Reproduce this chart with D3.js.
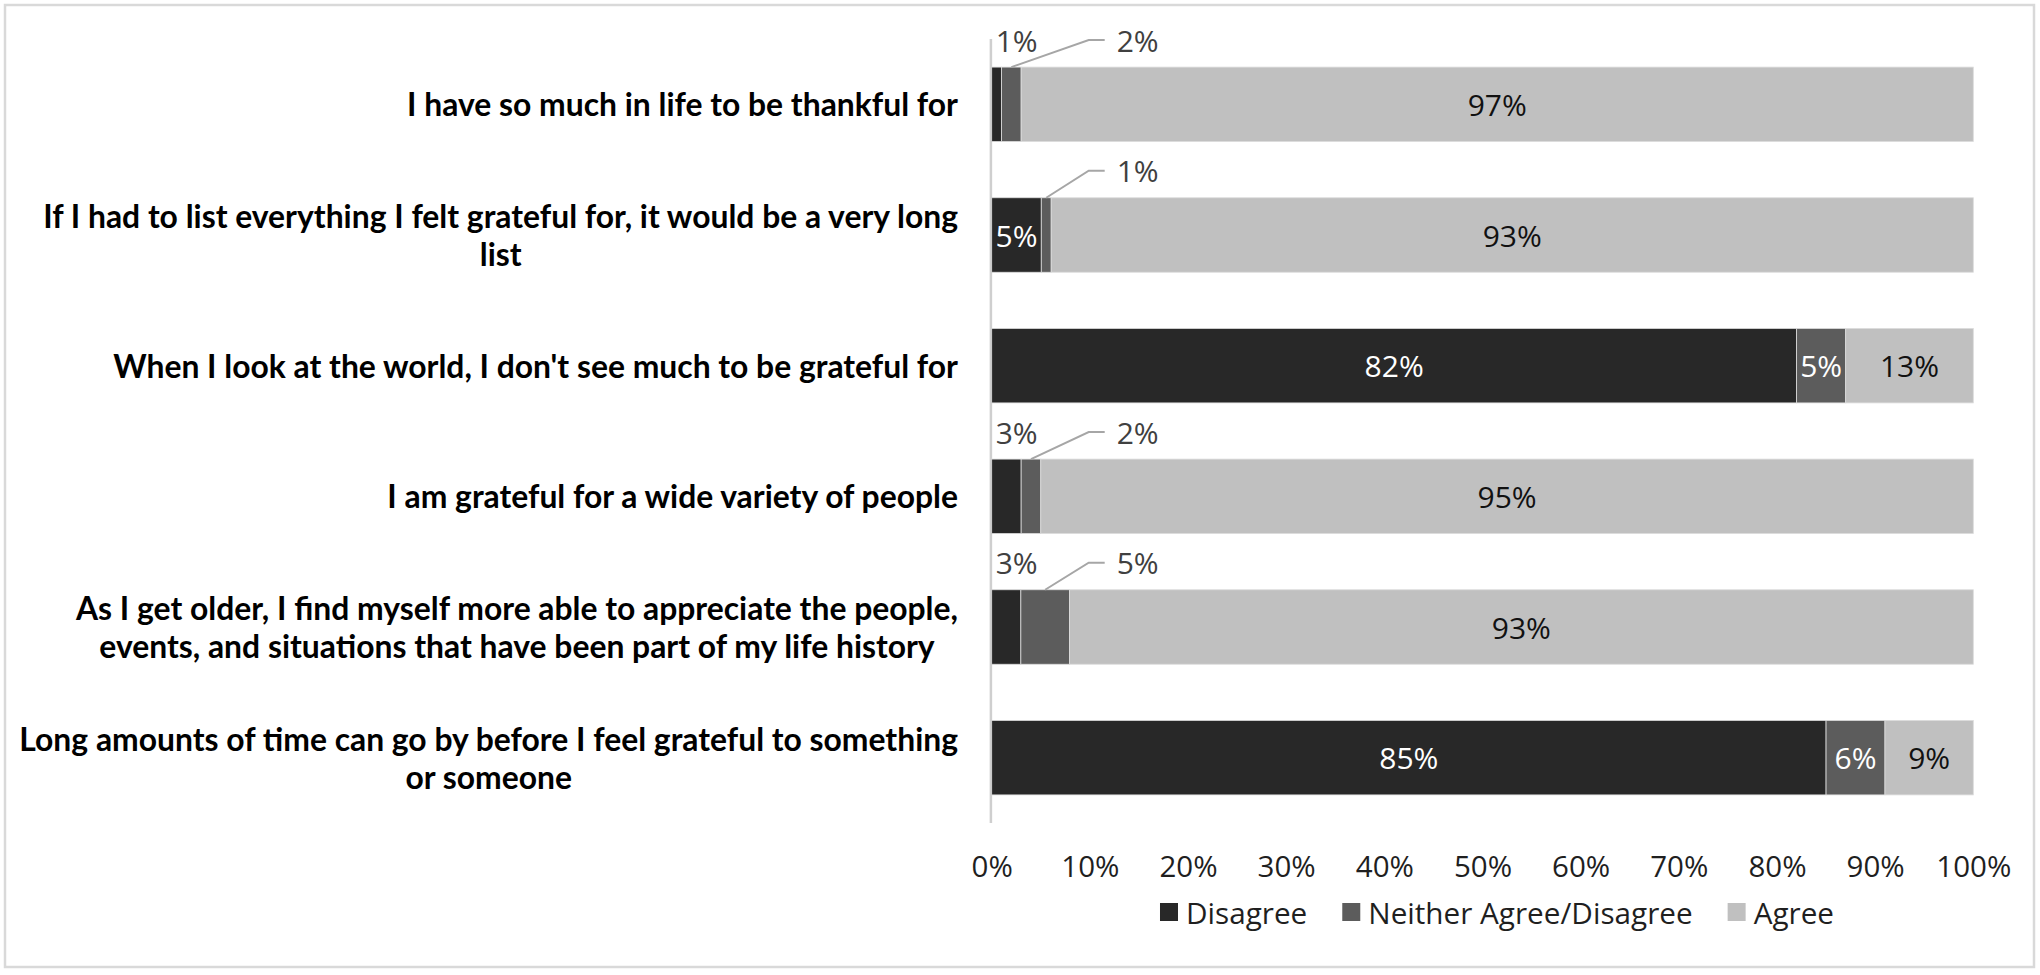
<!DOCTYPE html>
<html>
<head>
<meta charset="utf-8">
<script src="https://cdn.jsdelivr.net/npm/d3@7/dist/d3.min.js"></script>
<style>
  html, body { margin: 0; padding: 0; background: #ffffff; }
  svg { display: block; }
</style>
</head>
<body>
<svg id="chart" width="2040" height="975"></svg>
<script>
// ---------------- DATA ----------------
const categories = [
  "I have so much in life to be thankful for",
  "If I had to list everything I felt grateful for, it would be a very long\nlist",
  "When I look at the world, I don't see much to be grateful for",
  "I am grateful for a wide variety of people",
  "As I get older, I find myself more able to appreciate the people,\nevents, and situations that have been part of my life history",
  "Long amounts of time can go by before I feel grateful to something\nor someone"
];
const seriesNames = ["Disagree", "Neither Agree/Disagree", "Agree"];
const disagree = [1, 5, 82, 3, 3, 85];
const neither  = [2, 1, 5, 2, 5, 6];
const agree    = [97, 93, 13, 95, 93, 9];
const xTickValues = [0, 0.1, 0.2, 0.3, 0.4, 0.5, 0.6, 0.7, 0.8, 0.9, 1.0];
// labels drawn above the bar: [row index, series index]
const outsideLabels = [[0, 0], [0, 1], [1, 1], [3, 0], [3, 1], [4, 0], [4, 1]];

// ---------------- SETUP ----------------
const svg = d3.select("#chart");
const colors = { "Disagree": "#282828", "Neither Agree/Disagree": "#5c5c5c", "Agree": "#c0c0c0" };
const labelColors = { "Disagree": "#ffffff", "Neither Agree/Disagree": "#ffffff", "Agree": "#111111" };
const numFont = "'Open Sans', 'DejaVu Sans', sans-serif";
const catFont = "Lato, 'Open Sans', sans-serif";

// outer border
svg.append("rect")
  .attr("x", 5).attr("y", 5).attr("width", 2029).attr("height", 962)
  .attr("fill", "#ffffff").attr("stroke", "#d9d9d9").attr("stroke-width", 2.5);

const table = categories.map((c, i) => ({
  category: c,
  "Disagree": disagree[i],
  "Neither Agree/Disagree": neither[i],
  "Agree": agree[i]
}));

const stacked = d3.stack().keys(seriesNames).offset(d3.stackOffsetExpand)(table);

const x = d3.scaleLinear().domain([0, 1]).range([991.7, 1973.3]);
const y = d3.scaleBand().domain(categories).range([39, 823]).paddingInner(0.43).paddingOuter(0.215);

// vertical category axis line
svg.append("line")
  .attr("x1", x(0) - 0.8).attr("x2", x(0) - 0.8)
  .attr("y1", y.range()[0]).attr("y2", y.range()[1])
  .attr("stroke", "#cfcfcf").attr("stroke-width", 2.5);

// bars
const gBars = svg.append("g");
stacked.forEach(layer => {
  gBars.selectAll(null).data(layer).enter().append("rect")
    .attr("x", d => x(d[0]))
    .attr("y", d => y(d.data.category))
    .attr("width", d => x(d[1]) - x(d[0]))
    .attr("height", y.bandwidth())
    .attr("fill", colors[layer.key])
    .attr("stroke", "#dcdcdc").attr("stroke-width", 0.8);
});

// data labels
const isOutside = (ri, si) => outsideLabels.some(p => p[0] === ri && p[1] === si);
const gLabels = svg.append("g");
const leaderColor = "#a6a6a6";
const dataFontSize = 30;
stacked.forEach((layer, si) => {
  layer.forEach((d, ri) => {
    const val = [disagree, neither, agree][si][ri];
    const txt = val + "%";
    const top = y(d.data.category);
    const cy = top + y.bandwidth() / 2;
    if (!isOutside(ri, si)) {
      gLabels.append("text")
        .attr("x", (x(d[0]) + x(d[1])) / 2)
        .attr("y", cy)
        .attr("text-anchor", "middle")
        .attr("dominant-baseline", "central")
        .attr("font-family", numFont).attr("font-size", dataFontSize)
        .attr("fill", labelColors[layer.key])
        .text(txt);
    } else {
      const ly = top - 27;
      if (si === 0) {
        gLabels.append("text")
          .attr("x", x(0) + 4).attr("y", ly)
          .attr("text-anchor", "start").attr("dominant-baseline", "central")
          .attr("font-family", numFont).attr("font-size", dataFontSize)
          .attr("fill", "#404040").text(txt);
      } else {
        const sx = (x(d[0]) + x(d[1])) / 2;
        const ex = x(0) + 97;
        gLabels.append("path")
          .attr("d", `M${sx},${top}L${ex},${ly}L${ex + 16},${ly}`)
          .attr("fill", "none").attr("stroke", leaderColor).attr("stroke-width", 2);
        gLabels.append("text")
          .attr("x", ex + 28).attr("y", ly)
          .attr("text-anchor", "start").attr("dominant-baseline", "central")
          .attr("font-family", numFont).attr("font-size", dataFontSize)
          .attr("fill", "#404040").text(txt);
      }
    }
  });
});

// category labels
const gCat = svg.append("g");
const labelRight = 958;
const lineH = 38;
categories.forEach(c => {
  const lines = c.split("\n");
  const g = gCat.append("g");
  const cy = y(c) + y.bandwidth() / 2;
  const texts = lines.map((ln, i) => g.append("text")
    .attr("y", cy + (i - (lines.length - 1) / 2) * lineH)
    .attr("text-anchor", "middle")
    .attr("dominant-baseline", "central")
    .attr("font-family", catFont).attr("font-weight", 700).attr("font-size", 31.85)
    .attr("fill", "#000000")
    .text(ln));
  const maxW = d3.max(texts, t => t.node().getComputedTextLength());
  texts.forEach(t => t.attr("x", labelRight - maxW / 2));
});

// x axis tick labels
const xAxis = d3.axisBottom(x).tickValues(xTickValues).tickFormat(d3.format(".0%")).tickSize(0);
const gx = svg.append("g").call(xAxis);
gx.select(".domain").remove();
gx.selectAll("text")
  .attr("y", 865).attr("dy", null)
  .attr("dominant-baseline", "central")
  .attr("font-family", numFont).attr("font-size", 29.5)
  .attr("fill", "#1f1f1f");

// legend
const legend = svg.append("g");
const items = seriesNames.map(name => {
  const g = legend.append("g");
  g.append("rect").attr("x", 0).attr("y", -9).attr("width", 18).attr("height", 18)
    .attr("fill", colors[name]);
  const t = g.append("text").attr("x", 26).attr("y", 0)
    .attr("dominant-baseline", "central")
    .attr("font-family", numFont).attr("font-size", 29.7)
    .attr("fill", "#1f1f1f").text(name);
  return { g, w: 26 + t.node().getComputedTextLength() };
});
const gap = 35;
const total = d3.sum(items, d => d.w) + gap * (items.length - 1);
let lx = 1497 - total / 2;
items.forEach(it => {
  it.g.attr("transform", `translate(${lx},912)`);
  lx += it.w + gap;
});
</script>
</body>
</html>
